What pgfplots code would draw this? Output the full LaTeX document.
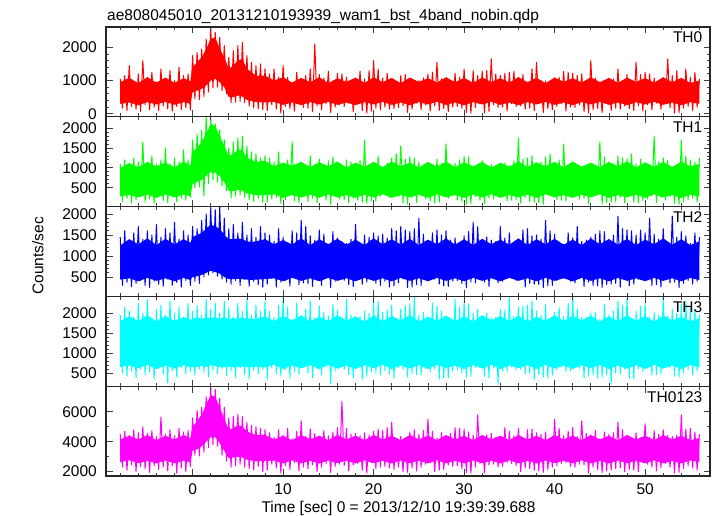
\documentclass[border=0pt]{standalone}
\usepackage{fontspec}
\setmainfont{Liberation Sans}
\usepackage{pgfplots}
\usepackage{pgfplotstable}
\pgfplotsset{compat=1.18}
\newcommand\lcfont{\fontsize{15.5bp}{18bp}\selectfont}
\definecolor{qred}{RGB}{255,0,0}
\definecolor{qgreen}{RGB}{0,255,0}
\definecolor{qblue}{RGB}{0,0,255}
\definecolor{qcyan}{RGB}{0,255,255}
\definecolor{qmagenta}{RGB}{255,0,255}

% light curves (alternating upward / downward excursions)
\pgfplotstableread{
t a b c d e
-8.00 1050 1100 1450 1950 4500
-7.75 170 160 300 500 2300
-7.50 1150 1200 1600 2150 4700
-7.25 100 240 380 420 2100
-7.00 1450 1050 1350 2050 4400
-6.75 220 120 270 550 2450
-6.50 980 1250 1550 1900 4800
-6.25 140 200 350 380 2000
-6.00 1200 1150 1700 2250 4600
-5.75 70 290 420 600 2350
-5.50 1600 1650 1400 2000 5000
-5.25 270 140 300 450 2200
-5.00 1100 1000 1600 2350 4550
-4.75 120 220 250 520 1950
-4.50 1250 1300 1500 1850 4750
-4.25 200 110 400 350 2400
-4.00 950 1100 1750 2100 4350
-3.75 90 270 330 620 2150
-3.50 1350 1200 1450 2200 5650
-3.25 240 180 280 470 2300
-3.00 1050 1500 1650 1950 4500
-2.75 150 130 450 250 2050
-2.50 1300 1100 1550 2300 4800
-2.25 80 300 310 560 2400
-2.00 1000 1250 1800 2000 4400
-1.75 220 150 370 400 1900
-1.50 1400 1150 1400 2150 4900
-1.25 130 240 260 630 2250
-1.00 1150 1450 1600 1900 4650
-0.75 180 190 420 480 2000
-0.50 1200 1200 1500 2250 4750
-0.25 110 260 300 540 2350
0.00 1750 1700 1700 2050 5600
0.25 450 500 400 450 3100
0.50 1850 1850 1650 2200 6100
0.75 420 520 350 600 3050
1.00 1950 1950 1850 1950 6300
1.25 520 300 500 520 3300
1.50 2250 2280 2000 2350 7000
1.75 650 600 550 400 3600
2.00 2620 2280 2175 2100 7700
2.25 780 700 600 580 3800
2.50 2450 2100 2100 2250 7500
2.75 800 650 520 480 3700
3.00 2300 1950 2175 2000 6900
3.25 700 550 450 610 3100
3.50 2050 1700 1900 2300 6300
3.75 600 430 380 430 2700
4.00 1700 1500 1650 2150 5600
4.25 330 240 330 550 2300
4.50 1900 1650 1750 1900 5700
4.75 350 290 420 380 2400
5.00 2050 1750 1550 2250 5850
5.25 370 320 300 620 2500
5.50 2150 1800 1800 2050 5700
5.75 330 260 450 470 2300
6.00 1750 1550 1500 2350 5300
6.25 230 200 280 350 2200
6.50 1550 1400 1650 1950 5100
6.75 180 160 400 560 2100
7.00 1450 1350 1450 2200 5000
7.25 150 240 320 480 2350
7.50 1500 1250 1700 2050 4900
7.75 130 140 260 600 2000
8.00 1350 1300 1550 2300 4800
8.25 100 140 330 350 2100
8.50 1200 1250 1500 2050 4600
8.75 270 220 470 620 2500
9.00 1350 1150 1350 1900 4300
9.25 140 260 260 480 2250
9.50 1100 1400 1650 2200 4800
9.75 20 110 380 420 1900
10.00 1450 1100 1450 2400 4450
10.25 220 200 420 580 2400
10.50 1100 1200 1300 2150 4900
10.75 160 340 290 370 2150
11.00 880 1650 1600 1850 4200
11.25 80 170 480 530 2600
11.50 1250 1050 1550 2250 4700
11.75 320 130 320 460 2050
12.00 1000 1150 1850 1950 5400
12.25 190 280 360 640 2300
12.50 1150 980 1700 2100 4350
12.75 170 160 350 500 2200
13.00 1350 1300 1480 2300 4850
13.25 70 240 280 380 2450
13.50 2100 1080 1380 1880 4550
13.75 240 120 450 600 2000
14.00 1180 1220 1620 2180 4250
14.25 120 290 300 450 2300
14.50 1080 1020 1520 2020 4750
14.75 300 190 500 650 2550
15.00 1280 1180 1280 1920 4400
15.25 40 90 250 220 1950
15.50 990 1280 1580 2230 4650
15.75 200 320 400 550 2350
16.00 1220 1120 1430 2080 4950
16.25 270 220 470 620 2500
16.50 1200 1000 1350 1900 6700
16.75 220 200 420 580 2400
17.00 1100 1200 1300 2350 4900
17.25 320 130 320 460 2050
17.50 1000 1150 1400 1950 4500
17.75 70 240 280 380 2450
18.00 920 1080 1750 1880 4550
18.25 300 190 500 650 2550
18.50 1280 1180 1280 1920 4400
18.75 100 140 330 350 2100
19.00 1050 1700 1500 2050 4600
19.25 20 110 380 420 1900
19.50 1300 950 1450 2000 4450
19.75 80 170 480 530 2600
20.00 1600 1050 1550 2250 4700
20.25 170 160 350 500 2200
20.50 1350 1300 1480 2300 4850
20.75 120 290 300 450 2300
21.00 1080 1020 1520 2020 4750
21.25 200 320 400 550 2350
21.50 1220 1120 1430 2080 4950
21.75 140 260 260 480 2250
22.00 950 1250 1650 2200 5300
22.25 160 340 290 370 2150
22.50 880 1350 1600 1850 4200
22.75 190 280 360 640 2300
23.00 1150 1550 1700 2100 4350
23.25 240 120 450 600 2000
23.50 1180 1220 1620 2180 4250
23.75 40 90 250 400 1950
24.00 990 1280 1580 2230 4650
24.25 140 260 260 480 2250
24.50 950 1250 1650 2420 4800
24.75 320 130 320 460 2050
25.00 1000 1150 1900 1950 4500
25.25 120 290 300 450 2300
25.50 1080 1020 1520 2020 4750
25.75 270 220 470 620 2500
26.00 1200 1000 1350 1900 5500
26.25 80 170 480 530 2600
26.50 1250 1050 1550 2250 4700
26.75 240 120 450 600 2000
27.00 1550 1220 1620 2180 4250
27.25 100 140 330 350 2100
27.50 1050 1100 1500 2050 4600
27.75 160 340 290 370 2150
28.00 880 1600 1600 1850 4200
28.25 70 240 280 380 2450
28.50 920 1080 1380 1880 4550
28.75 200 320 400 550 2350
29.00 1220 1120 1430 2350 4950
29.25 220 200 420 580 2400
29.50 1100 1200 1300 2150 4900
29.75 170 160 350 500 2200
30.00 1350 1300 1480 2300 4850
30.25 40 90 250 400 1950
30.50 990 1280 1580 2230 4650
30.75 20 110 380 420 1900
31.00 1300 950 1800 2000 4450
31.25 190 280 360 640 2300
31.50 1150 980 1700 2100 5800
31.75 300 190 500 650 2550
32.00 1280 1180 1280 1920 4400
32.25 20 110 380 420 1900
32.50 1300 950 1450 2000 4450
32.75 70 240 280 380 2450
33.00 1650 1080 1380 1880 4550
33.25 270 220 470 620 2500
33.50 1200 1000 1350 1900 4300
33.75 190 280 360 220 2300
34.00 1150 980 1700 2100 4350
34.25 200 320 400 550 2350
34.50 1220 1120 1430 2080 4950
34.75 80 170 480 530 2600
35.00 1250 1050 1550 2400 4700
35.25 300 190 500 650 2550
35.50 1280 1180 1280 1920 4400
35.75 220 200 420 580 2400
36.00 1100 1750 1300 2150 4900
36.25 240 120 450 600 2000
36.50 1180 1220 1620 2180 4250
36.75 140 260 260 480 2250
37.00 950 1250 1650 2200 4800
37.25 170 160 350 500 2200
37.50 1350 1300 1480 2300 4850
37.75 100 140 330 350 2100
38.00 1550 1100 1500 2050 4600
38.25 320 130 320 460 2050
38.50 1000 1150 1400 1950 4500
38.75 40 90 250 400 1950
39.00 990 1280 1850 2230 4650
39.25 160 340 290 370 2150
39.50 880 1350 1600 1850 4200
39.75 120 290 300 450 2300
40.00 1080 1020 1520 2020 5500
40.25 220 200 420 580 2400
40.50 1100 1200 1300 2150 4900
40.75 300 190 500 650 2550
41.00 1280 1600 1280 1920 4400
41.25 80 170 480 530 2600
41.50 1250 1050 1550 2250 4700
41.75 200 320 400 550 2350
42.00 1220 1120 1430 2420 4950
42.25 190 280 360 640 2300
42.50 1150 980 1700 2100 4350
42.75 270 220 470 620 2500
43.00 1200 1000 1350 1900 5400
43.25 70 240 280 380 2450
43.50 920 1080 1380 1880 4550
43.75 20 110 380 420 1900
44.00 1600 950 1450 2000 4450
44.25 120 290 300 450 2300
44.50 1080 1020 1520 2020 4750
44.75 160 340 290 370 2150
45.00 880 1650 1600 1850 4200
45.25 40 90 250 400 1950
45.50 990 1280 1580 2230 4650
45.75 320 130 320 460 2050
46.00 1000 1150 1400 1950 4500
46.25 100 140 330 230 2100
46.50 1050 1100 1500 2050 4600
46.75 170 160 350 500 2200
47.00 1350 1300 1950 2300 5300
47.25 140 260 260 480 2250
47.50 950 1250 1650 2200 4800
47.75 240 120 450 600 2000
48.00 1180 1220 1620 2380 4250
48.25 160 340 290 370 2150
48.50 880 1350 1600 1850 4200
48.75 100 140 330 350 2100
49.00 1550 1100 1500 2050 4600
49.25 240 120 450 600 2000
49.50 1180 1220 1620 2180 4250
49.75 80 170 480 530 2600
50.00 1250 1050 1550 2250 5200
50.25 270 220 470 620 2500
50.50 1200 1000 1900 1900 4300
50.75 120 290 300 450 2300
51.00 1080 1800 1520 2020 4750
51.25 320 130 320 460 2050
51.50 1000 1150 1400 1950 4500
51.75 140 260 260 480 2250
52.00 950 1250 1650 2420 4800
52.25 300 190 500 650 2550
52.50 1650 1180 1280 1920 4400
52.75 190 280 360 640 2300
53.00 1150 980 1950 2100 4350
53.25 20 110 380 420 1900
53.50 1300 950 1450 2000 4450
53.75 40 90 250 400 1950
54.00 990 1700 1580 2230 5800
54.25 170 160 350 500 2200
54.50 1350 1300 1480 2300 4850
54.75 220 200 420 580 2400
55.00 1100 1200 1300 2150 4900
55.25 100 240 330 450 2250
55.50 1250 1150 1550 2100 4650
55.75 200 140 400 550 2100
56.00 1050 1250 1450 1950 4500
}\lc

% dense core of each light curve: upper edge forward in time, lower edge backward
\pgfplotstableread{
t a b c d e
-8 950 1000 1250 1800 4150
-7 1080 1120 1400 1920 4400
-6 920 1020 1280 1800 4150
-5 1100 1150 1420 1950 4450
-4 940 1040 1260 1790 4100
-3 1090 1130 1410 1930 4400
-2 930 1010 1280 1810 4150
-1 1070 1160 1400 1900 4450
-0.25 980 1060 1320 1840 4250
0 1400 1400 1450 1850 5000
0.5 1550 1500 1500 1900 5400
1 1700 1650 1550 1850 5800
1.5 1950 1850 1650 1900 6500
2 2250 2100 1750 1880 7100
2.5 2300 2050 1700 1900 7000
3 1950 1800 1650 1850 6300
3.5 1700 1550 1500 1900 5500
4 1350 1300 1400 1850 4800
4.5 1450 1350 1400 1880 4900
5 1600 1450 1420 1850 5100
5.5 1650 1450 1400 1900 5000
6 1350 1250 1350 1850 4700
6.5 1250 1200 1330 1870 4550
7 1150 1150 1350 1850 4450
8 1150 1180 1400 1920 4450
9 1000 1040 1280 1800 4150
10 1100 1130 1380 1930 4400
11 940 1060 1270 1820 4100
12 1080 1150 1420 1940 4450
13 950 1020 1260 1790 4150
14 1100 1140 1400 1910 4400
15 920 1040 1280 1800 4100
16 1070 1160 1410 1950 4450
17 960 1010 1270 1810 4150
18 1090 1130 1390 1920 4400
19 930 1030 1260 1790 4100
20 1100 1150 1420 1940 4450
21 950 1020 1280 1800 4150
22 1080 1160 1400 1930 4400
23 920 1040 1270 1820 4100
24 1090 1130 1410 1950 4450
25 960 1010 1260 1790 4150
26 1070 1150 1390 1910 4400
27 940 1030 1280 1810 4100
28 1100 1160 1420 1940 4450
29 950 1020 1270 1800 4150
30 1080 1140 1400 1920 4400
31 930 1040 1260 1790 4100
32 1090 1150 1410 1950 4450
33 960 1010 1280 1820 4150
34 1070 1130 1390 1930 4400
35 940 1030 1270 1800 4100
36 1100 1160 1420 1940 4450
37 950 1020 1260 1790 4150
38 1080 1140 1400 1910 4400
39 920 1040 1280 1810 4100
40 1090 1150 1410 1950 4450
41 960 1010 1270 1800 4150
42 1070 1160 1390 1930 4400
43 940 1030 1260 1820 4100
44 1100 1130 1420 1940 4450
45 950 1020 1280 1790 4150
46 1080 1150 1400 1920 4400
47 930 1040 1270 1800 4100
48 1090 1160 1410 1950 4450
49 960 1010 1260 1810 4150
50 1070 1140 1390 1930 4400
51 940 1030 1280 1790 4100
52 1100 1150 1420 1940 4450
53 950 1020 1270 1820 4150
54 1080 1160 1400 1910 4400
55 930 1040 1260 1800 4100
56 1000 1100 1350 1870 4250
56 300 280 430 640 2650
55 350 330 480 700 2750
54 260 250 400 600 2550
53 340 320 470 690 2720
52 270 260 410 610 2560
51 360 340 480 710 2760
50 280 250 400 600 2550
49 350 330 470 700 2740
48 260 260 410 610 2570
47 340 320 480 690 2750
46 270 250 400 600 2550
45 360 340 470 710 2730
44 280 260 410 620 2560
43 350 330 480 700 2760
42 260 250 400 600 2550
41 340 320 470 690 2740
40 270 260 410 610 2570
39 360 340 480 710 2750
38 280 250 400 600 2550
37 350 330 470 700 2730
36 260 260 410 620 2560
35 340 320 480 690 2760
34 270 250 400 600 2550
33 360 340 470 710 2740
32 280 260 410 610 2570
31 350 330 480 700 2750
30 260 250 400 600 2550
29 340 320 470 690 2730
28 270 260 410 620 2560
27 360 340 480 710 2760
26 280 250 400 600 2550
25 350 330 470 700 2740
24 260 260 410 610 2570
23 340 320 480 690 2750
22 270 250 400 600 2550
21 360 340 470 710 2730
20 280 260 410 620 2560
19 350 330 480 700 2760
18 260 250 400 600 2550
17 340 320 470 690 2740
16 270 260 410 610 2570
15 360 340 480 710 2750
14 280 250 400 600 2550
13 350 330 470 700 2730
12 260 260 410 620 2560
11 340 320 480 690 2760
10 270 250 400 600 2550
9 360 340 470 710 2740
8 340 320 450 640 2720
7 360 320 440 660 2700
6.5 380 340 430 640 2750
6 420 360 440 650 2800
5.5 520 430 450 660 2950
5 550 450 460 650 3000
4.5 500 420 450 640 2950
4 500 420 450 660 2900
3.5 800 650 500 650 3400
3 950 800 580 650 3900
2.5 1050 880 620 680 4300
2 1000 900 650 700 4300
1.5 850 800 600 650 4000
1 750 700 550 680 3700
0.5 700 650 520 650 3500
0 650 600 500 650 3400
-0.25 300 290 430 640 2620
-1 350 330 480 700 2740
-2 270 260 400 610 2560
-3 360 340 470 690 2750
-4 280 250 410 600 2550
-5 350 330 480 710 2730
-6 260 260 400 620 2570
-7 340 320 470 690 2760
-8 300 290 440 650 2650
}\core

\pgfplotsset{
  panel/.style={
    scale only axis, width=604bp, height=89.8bp,
    anchor=south west,
    xmin=-9.57, xmax=57.17,
    xtick={0,10,20,30,40,50},
    minor xtick={-8,-6,...,56},
    xticklabels={},
    tick align=inside,
    axis on top=true,
    major tick length=6.5bp, minor tick length=3.3bp,
    tick style={black!75, line width=0.8bp},
    axis line style={black!85, line width=1.1bp},
    tick label style={font=\lcfont},
    yticklabel style={inner sep=0pt, xshift=-9bp},
    xticklabel style={inner sep=0pt, yshift=-7bp},
    /pgf/number format/assume math mode=true,
    /pgf/number format/1000 sep={},
    scaled y ticks=false,
  },
  lc/.style={mark=none, line width=1bp, line join=round},
  cr/.style={mark=none, draw=none},
}

\begin{document}
\begin{tikzpicture}
\useasboundingbox (0bp,0bp) rectangle (717bp,516bp);

% TH0
\begin{axis}[panel, at={(106bp,399.2bp)},
  ymin=-90, ymax=2610, ytick={0,1000,2000}, minor y tick num=4]
\addplot[cr, fill=qred] table[x=t, y=a]{\core};
\addplot[lc, color=qred] table[x=t, y=a]{\lc};
\node[anchor=base east, inner sep=0pt, font=\lcfont, xshift=-7.5bp, yshift=-16bp] at (rel axis cs:1,1) {TH0};
\end{axis}

% TH1
\begin{axis}[panel, at={(106bp,309.4bp)},
  ymin=30, ymax=2280, ytick={500,1000,1500,2000}, minor y tick num=4]
\addplot[cr, fill=qgreen] table[x=t, y=b]{\core};
\addplot[lc, color=qgreen] table[x=t, y=b]{\lc};
\node[anchor=base east, inner sep=0pt, font=\lcfont, xshift=-7.5bp, yshift=-16bp] at (rel axis cs:1,1) {TH1};
\end{axis}

% TH2
\begin{axis}[panel, at={(106bp,219.6bp)},
  ymin=40, ymax=2175, ytick={500,1000,1500,2000}, minor y tick num=4]
\addplot[cr, fill=qblue] table[x=t, y=c]{\core};
\addplot[lc, color=qblue] table[x=t, y=c]{\lc};
\node[anchor=base east, inner sep=0pt, font=\lcfont, xshift=-7.5bp, yshift=-16bp] at (rel axis cs:1,1) {TH2};
\end{axis}

% TH3
\begin{axis}[panel, at={(106bp,129.8bp)},
  ymin=170, ymax=2420, ytick={500,1000,1500,2000}, minor y tick num=4]
\addplot[cr, fill=qcyan] table[x=t, y=d]{\core};
\addplot[lc, color=qcyan] table[x=t, y=d]{\lc};
\node[anchor=base east, inner sep=0pt, font=\lcfont, xshift=-7.5bp, yshift=-16bp] at (rel axis cs:1,1) {TH3};
\end{axis}

% TH0123
\begin{axis}[panel, at={(106bp,40bp)},
  ymin=1710, ymax=7710, ytick={2000,4000,6000}, minor y tick num=1,
  xticklabels={0,10,20,30,40,50}]
\addplot[cr, fill=qmagenta] table[x=t, y=e]{\core};
\addplot[lc, color=qmagenta] table[x=t, y=e]{\lc};
\node[anchor=base east, inner sep=0pt, font=\lcfont, xshift=-7.5bp, yshift=-16bp] at (rel axis cs:1,1) {TH0123};
\end{axis}

\node[anchor=base west, inner sep=0pt, font=\lcfont] at (107bp,495.5bp) {ae808045010\_20131210193939\_wam1\_bst\_4band\_nobin.qdp};
\node[anchor=base, inner sep=0pt, font=\lcfont] at (398.5bp,4bp) {Time [sec] 0 = 2013/12/10 19:39:39.688};
\node[rotate=90, anchor=base, inner sep=0pt, font=\lcfont] at (43.3bp,260bp) {Counts/sec};
\end{tikzpicture}
\end{document}
